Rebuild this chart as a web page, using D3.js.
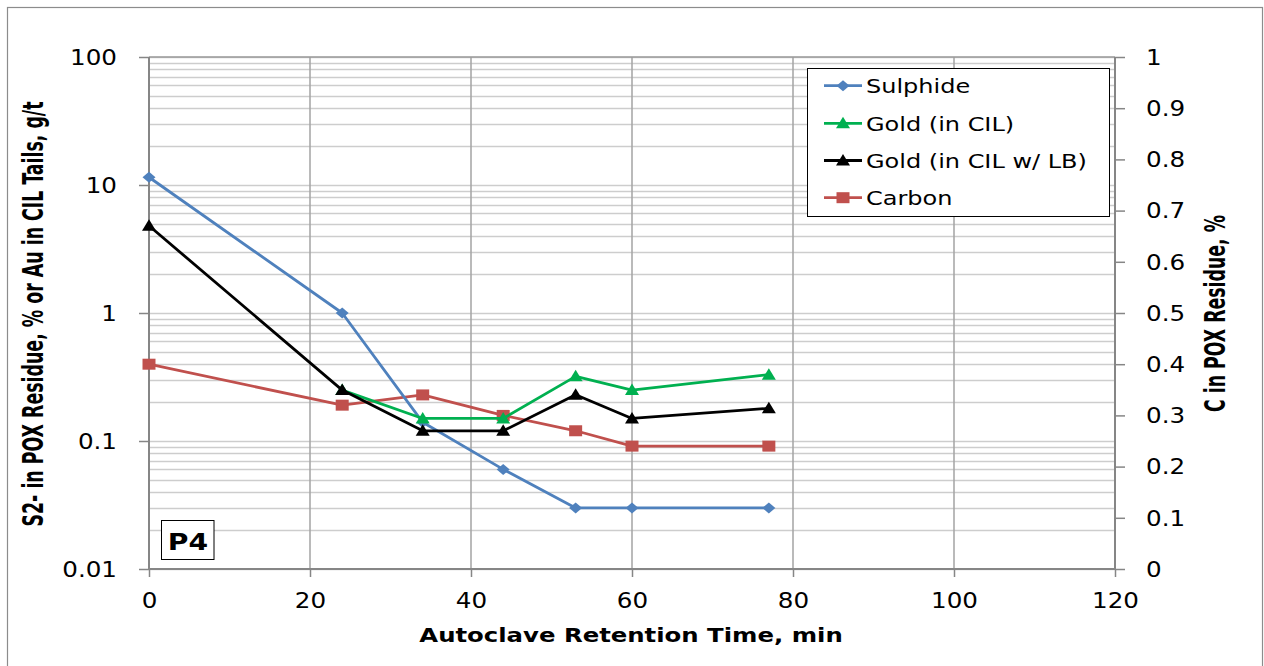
<!DOCTYPE html>
<html>
<head>
<meta charset="utf-8">
<script src="https://cdn.jsdelivr.net/npm/d3@7"></script>
<style>
  html, body { margin: 0; padding: 0; background: #fff; }
  svg { display: block; }
  .tick text { font-family: "DejaVu Sans", Verdana, sans-serif; font-size: 20.5px; fill: #000; }
</style>
</head>
<body>
<svg id="chart" width="1264" height="666"></svg>
<script>
// Autoclave retention time (min) for each test point
const times = [0, 24, 34, 44, 53, 60, 77];

// Left axis (log): S2- in POX residue (%) and Au in CIL tails (g/t)
const sulphide   = [11.5, 1.0, 0.14, 0.06, 0.03, 0.03, 0.03];
const goldCIL    = [null, 0.25, 0.15, 0.15, 0.32, 0.25, 0.33];
const goldCILwLB = [4.8, 0.25, 0.12, 0.12, 0.23, 0.15, 0.18];

// Right axis (linear): C in POX residue (%)
const carbon     = [0.40, 0.32, 0.34, 0.30, 0.27, 0.24, 0.24];

// Tick labels
const xTicks      = [0, 20, 40, 60, 80, 100, 120];
const leftTicks   = [0.01, 0.1, 1, 10, 100];
const leftLabels  = ["0.01", "0.1", "1", "10", "100"];
const rightTicks  = [0, 0.1, 0.2, 0.3, 0.4, 0.5, 0.6, 0.7, 0.8, 0.9, 1];
const rightLabels = ["0", "0.1", "0.2", "0.3", "0.4", "0.5", "0.6", "0.7", "0.8", "0.9", "1"];

const seriesNames  = ["Sulphide", "Gold (in CIL)", "Gold (in CIL w/ LB)", "Carbon"];
const seriesColors = ["#4F81BD", "#00B050", "#000000", "#C0504D"];
const seriesShapes = ["diamond", "triangle", "triangle", "square"];

const svg = d3.select("#chart");
const SX = 1.2; // horizontal text stretch

const plot = { left: 149, right: 1115, top: 57, bottom: 569 };

const x = d3.scaleLinear().domain([0, 120]).range([plot.left, plot.right]);
const yL = d3.scaleLog().domain([0.01, 100]).range([plot.bottom, plot.top]);
const yR = d3.scaleLinear().domain([0, 1]).range([plot.bottom, plot.top]);

// outer chart frame
svg.append("rect")
  .attr("x", 7.5).attr("y", 7.5).attr("width", 1255).attr("height", 700)
  .attr("fill", "#fff").attr("stroke", "#8c8c8c").attr("stroke-width", 1.2);

// horizontal log gridlines (major + minor)
const minorVals = [];
for (let e = -2; e < 2; e++) {
  for (let k = 1; k <= 9; k++) minorVals.push(k * Math.pow(10, e));
}
minorVals.push(100);
svg.append("g").selectAll("line").data(minorVals).join("line")
  .attr("x1", plot.left).attr("x2", plot.right)
  .attr("y1", d => Math.round(yL(d)) + 0.5).attr("y2", d => Math.round(yL(d)) + 0.5)
  .attr("stroke", "#cdcdcd").attr("stroke-width", 1.5);

// vertical gridlines
svg.append("g").selectAll("line").data(xTicks.filter(d => d > 0 && d < 120)).join("line")
  .attr("x1", d => x(d)).attr("x2", d => x(d))
  .attr("y1", plot.top).attr("y2", plot.bottom)
  .attr("stroke", "#a3a3a3").attr("stroke-width", 1.5);

// top border line of plot
svg.append("line")
  .attr("x1", plot.left).attr("x2", plot.right).attr("y1", plot.top).attr("y2", plot.top)
  .attr("stroke", "#9a9a9a").attr("stroke-width", 1.5);

// axes
const gx = svg.append("g").attr("transform", `translate(0,${plot.bottom})`)
  .call(d3.axisBottom(x).tickValues(xTicks).tickFormat(d3.format("d")).tickSize(8).tickPadding(16.5));
const gl = svg.append("g").attr("transform", `translate(${plot.left},0)`)
  .call(d3.axisLeft(yL).tickValues(leftTicks).tickFormat((d, i) => leftLabels[i]).tickSize(10));
const gr = svg.append("g").attr("transform", `translate(${plot.right},0)`)
  .call(d3.axisRight(yR).tickValues(rightTicks).tickFormat((d, i) => rightLabels[i]).tickSize(10));

[gx, gl, gr].forEach(g => {
  g.select(".domain").attr("stroke", "#868686").attr("stroke-width", 2);
  g.selectAll(".tick line").attr("stroke", "#868686").attr("stroke-width", 1.5);
});
gx.select(".domain").attr("d", `M${plot.left},0H${plot.right}`);
gl.select(".domain").attr("d", `M0,${plot.bottom}V${plot.top}`);
gr.select(".domain").attr("d", `M0,${plot.bottom}V${plot.top}`);

gx.selectAll(".tick text").attr("transform", `scale(${SX},1)`);
gl.selectAll(".tick text").attr("x", -32 / SX).attr("dy", "0.36em").attr("transform", `scale(${SX},1)`);
gr.selectAll(".tick text").attr("x", 31 / SX).attr("dy", "0.36em").attr("transform", `scale(${SX},1)`);

// marker path generators (slightly wider than tall)
function markerPath(shape) {
  if (shape === "diamond") return "M0,-5.5L6.5,0L0,5.5L-6.5,0Z";
  if (shape === "triangle") return "M0,-6.5L7,5L-7,5Z";
  return "M-6.5,-5.5H6.5V5.5H-6.5Z";
}

const leftSeries = [sulphide, goldCIL, goldCILwLB];
const allSeries = [
  { vals: sulphide, y: yL }, { vals: goldCIL, y: yL },
  { vals: goldCILwLB, y: yL }, { vals: carbon, y: yR }
];

const drawOrder = [3, 0, 1, 2];
drawOrder.forEach(i => {
  const s = allSeries[i];
  const pts = times.map((t, j) => ({ t, v: s.vals[j] })).filter(p => p.v != null);
  const line = d3.line().x(p => x(p.t)).y(p => s.y(p.v));
  const g = svg.append("g");
  g.append("path").datum(pts).attr("d", line)
    .attr("fill", "none").attr("stroke", seriesColors[i]).attr("stroke-width", 2.8)
    .attr("stroke-linejoin", "round");
  g.selectAll("path.m").data(pts).join("path").attr("class", "m")
    .attr("d", markerPath(seriesShapes[i]))
    .attr("transform", p => `translate(${x(p.t)},${s.y(p.v)})`)
    .attr("fill", seriesColors[i]);
});

// legend
const leg = svg.append("g");
leg.append("rect").attr("x", 807.5).attr("y", 68.5).attr("width", 302).attr("height", 148)
  .attr("fill", "#fff").attr("stroke", "#000").attr("stroke-width", 1);
const legY = [85.7, 123.3, 160.5, 197.7];
seriesNames.forEach((name, i) => {
  leg.append("line").attr("x1", 824).attr("x2", 862).attr("y1", legY[i]).attr("y2", legY[i])
    .attr("stroke", seriesColors[i]).attr("stroke-width", 2.8);
  leg.append("path").attr("d", markerPath(seriesShapes[i]))
    .attr("transform", `translate(843,${legY[i]})`).attr("fill", seriesColors[i]);
  leg.append("text").attr("transform", `translate(866,${legY[i] + 7.5}) scale(${SX},1)`)
    .attr("font-family", "DejaVu Sans, Verdana, sans-serif").attr("font-size", 20)
    .text(name);
});

// P4 tag
svg.append("rect").attr("x", 161.5).attr("y", 520.5).attr("width", 52.5).attr("height", 39)
  .attr("fill", "#fff").attr("stroke", "#000").attr("stroke-width", 1);
svg.append("text").attr("transform", `translate(188,550) scale(${SX},1)`)
  .attr("text-anchor", "middle").attr("font-family", "DejaVu Sans, Verdana, sans-serif")
  .attr("font-weight", "bold").attr("font-size", 23.5).text("P4");

// axis titles
svg.append("text").attr("transform", `translate(631,641.5) scale(${SX},1)`)
  .attr("text-anchor", "middle").attr("font-family", "DejaVu Sans, Verdana, sans-serif")
  .attr("font-weight", "bold").attr("font-size", 20.3)
  .text("Autoclave Retention Time, min");

const condensed = "'Liberation Sans Narrow', 'DejaVu Sans Condensed', 'Roboto Condensed', 'Liberation Sans', sans-serif";
svg.append("text").attr("transform", `translate(42.5,314) scale(${SX},1) rotate(-90)`)
  .attr("text-anchor", "middle").attr("font-family", condensed)
  .attr("font-weight", "bold").attr("font-size", 24)
  .attr("textLength", 425).attr("lengthAdjust", "spacingAndGlyphs")
  .text("S2- in POX Residue, % or Au in CIL Tails, g/t");
svg.append("text").attr("transform", `translate(1225,313.5) scale(${SX},1) rotate(-90)`)
  .attr("text-anchor", "middle").attr("font-family", condensed)
  .attr("font-weight", "bold").attr("font-size", 24)
  .attr("textLength", 197).attr("lengthAdjust", "spacingAndGlyphs")
  .text("C in POX Residue, %");
</script>
</body>
</html>
